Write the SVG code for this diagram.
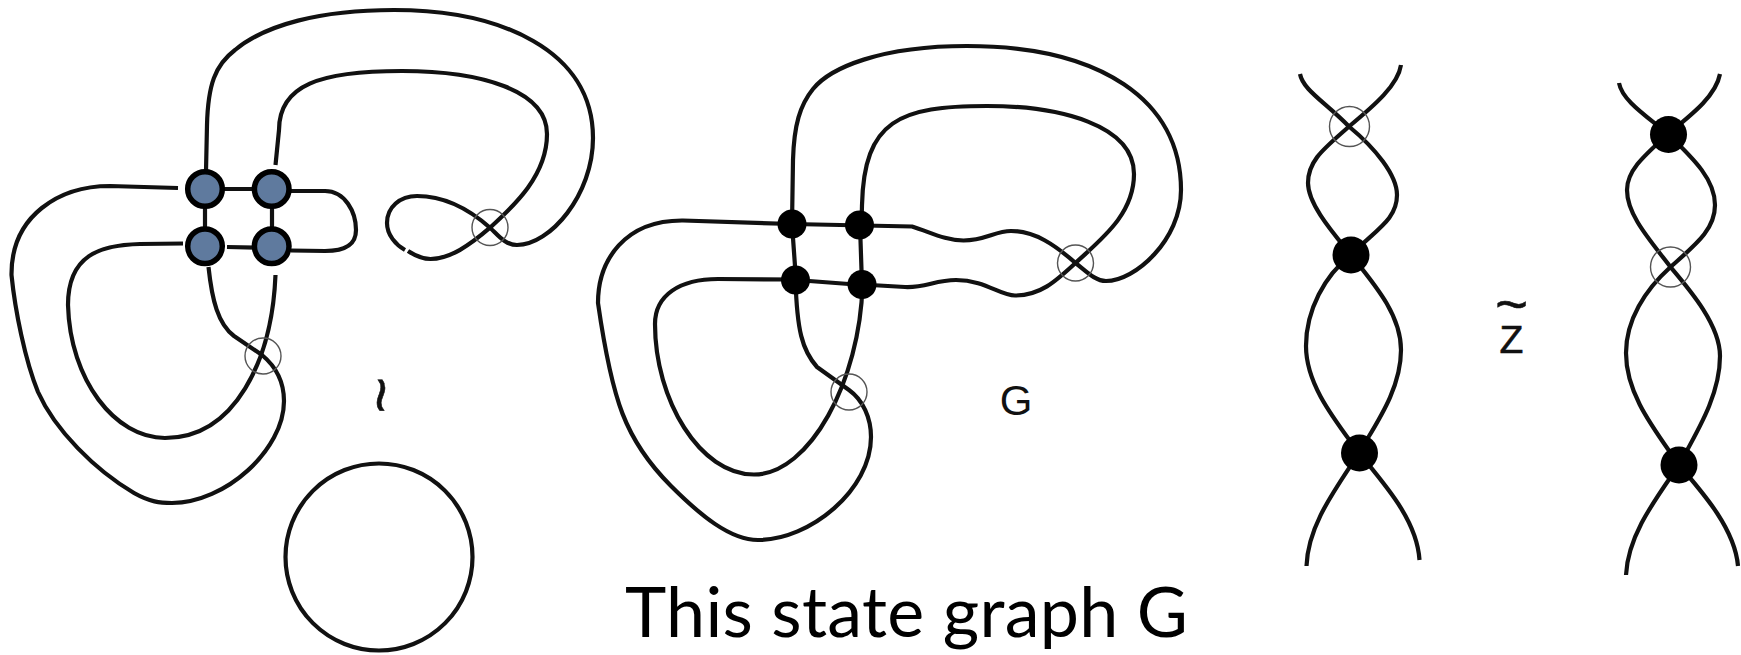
<svg xmlns="http://www.w3.org/2000/svg" width="1741" height="655" viewBox="0 0 1741 655">
<style>
.s{fill:none;stroke:#111;stroke-width:4.2;stroke-linecap:butt;stroke-linejoin:round}
.v{fill:#5f7a9e;stroke:#000;stroke-width:5.5}
.b{fill:#000}
.x{fill:none;stroke:#555;stroke-width:1.4}
.l{font-family:"Liberation Sans",Arial,sans-serif;fill:#111}
.h{stroke:#111;stroke-width:.6}
</style>
<rect width="1741" height="655" fill="#fff"/>
<g id="connectors">
<!-- left figure -->
<path class="s" d="M206,171 L207,125 C208,85 215,65 235,50 C265,25 320,10 394,10 C500,10 593,50 593,138 C593,195 550,245 517,245 C505,245 498,235 490,227.7 C470,210 445,196 417,196 C400,196 387,207 387,223 C387,235 396,245 405,250"/>
<path class="s" d="M408,251 C414,255 422,259 430.5,259 C450,259 470,245 490,227.7 C515,205 547,175 547,134 C547,90 480,71 402,71 C320,71 279,85 279,130 L275.5,165"/>
<path class="s" d="M205,189 V246 M205,189 H272 M227,247 L272,248 M272,189 V246"/>
<path class="s" d="M291,191 H325 C345,191 356,212 356,230 C356,245 345,251 325,251 L291,250.5"/>
<path class="s" d="M178,188 L110,186 C60,186 11,215 11.5,275 C15,310 25,360 38,392 C55,430 95,470 134,493 C150,502 160,503 172,503 C225,503 284,450 284,401 C284,380 274,365 262,355 L234,336 C218,324 212,300 208.5,267"/>
<path class="s" d="M183,243.5 L140,244 C100,245 68,255 68,305 C70,380 115,438 165,438 C235,438 272,360 275.5,275"/>
<circle class="s" cx="379" cy="557" r="93.5"/>
<!-- middle figure -->
<path class="s" d="M792,224 L793,160 C794,125 800,105 813,89 C830,68 880,46 967,46 C1100,46 1181,100 1181,190 C1181,240 1135,281 1106,281 C1095,281 1086,271 1075.5,263 C1055,245 1035,231 1011,231 C995,231 985,240.5 963.5,240.5 C945,240.5 930,232 912,226.5 L792,224"/>
<path class="s" d="M862,284.5 L905,287 C925,288 935,280 956,280 C985,280 1000,295.5 1015,295.5 C1040,295.5 1055,282 1075.5,263 C1100,240 1134,215 1134,174 C1134,125 1060,106 987,106 C900,106 864,120 862,205 L861.5,225"/>
<path class="s" d="M792,224 L796,280 M860,225 L862,285 M796,280 L862,285"/>
<path class="s" d="M795.5,280 C797,330 802,350 817,367 L849,390 C863,400 871,418 871,437 C871,490 810,540 758,540 C730,540 700,515 671,486 C625,440 612,400 598,303 C598,260 625,220 683,220.5 L792,224"/>
<path class="s" d="M796,279.5 L718,279 C680,279 655,295 655,324 C655,400 700,474.5 754,474.5 C810,474.5 860,380 862.5,285"/>
<!-- right pair, left -->
<path class="s" d="M1300,74 C1303,90 1325,102 1349,126.5 C1375,148 1397,175 1397,195 C1397,220 1375,230 1351,255"/>
<path class="s" d="M1401,65 C1398,85 1375,105 1349,126.5 C1325,148 1308,160 1308,183 C1308,205 1335,235 1351,255"/>
<path class="s" d="M1351,255 C1325,275 1306,310 1306,346 C1306,385 1335,420 1359,453"/>
<path class="s" d="M1351,255 C1375,285 1401,315 1401,350 C1401,390 1375,425 1359,453"/>
<path class="s" d="M1359,453 C1335,490 1308,525 1306.5,566"/>
<path class="s" d="M1359,453 C1385,485 1417,520 1419.5,560"/>
<!-- right pair, right -->
<path class="s" d="M1619,83 C1622,100 1645,115 1668,134"/>
<path class="s" d="M1720,74 C1716,95 1695,112 1668,134"/>
<path class="s" d="M1668,134 C1695,160 1715,180 1715,205 C1715,230 1695,245 1670.5,267 C1645,290 1626,320 1626,353 C1626,395 1655,430 1679,465"/>
<path class="s" d="M1668,134 C1645,155 1627,170 1627,190 C1627,215 1650,240 1670.5,267 C1690,290 1720,325 1720,356 C1720,395 1698,430 1679,465"/>
<path class="s" d="M1679,465 C1655,500 1628,535 1626,575"/>
<path class="s" d="M1679,465 C1705,495 1735,530 1738,566"/>
</g>
<g id="left-vertices">
<g id="v1"><circle class="v" cx="205" cy="189" r="17.3"/></g>
<g id="v2"><circle class="v" cx="271.7" cy="189" r="17.3"/></g>
<g id="v3"><circle class="v" cx="205" cy="246.3" r="17.3"/></g>
<g id="v4"><circle class="v" cx="271.7" cy="246.3" r="17.3"/></g>
<g id="x1"><circle class="x" cx="490" cy="227.5" r="18"/></g>
<g id="x2"><circle class="x" cx="263" cy="356" r="18"/></g>
</g>
<g id="middle-vertices">
<g id="m1"><circle class="b" cx="792" cy="224" r="14.5"/></g>
<g id="m2"><circle class="b" cx="859.5" cy="225" r="14.5"/></g>
<g id="m3"><circle class="b" cx="795.5" cy="280" r="14.5"/></g>
<g id="m4"><circle class="b" cx="862" cy="284.5" r="14.5"/></g>
<g id="x3"><circle class="x" cx="1075.5" cy="263" r="18"/></g>
<g id="x4"><circle class="x" cx="849" cy="392" r="18"/></g>
</g>
<g id="right-vertices">
<g id="x5"><circle class="x" cx="1349.5" cy="126.5" r="20"/></g>
<g id="r1"><circle class="b" cx="1351" cy="255" r="18.5"/></g>
<g id="r2"><circle class="b" cx="1359.5" cy="453" r="18.5"/></g>
<g id="r3"><circle class="b" cx="1668.5" cy="134.5" r="18.5"/></g>
<g id="x6"><circle class="x" cx="1670.5" cy="267" r="20"/></g>
<g id="r4"><circle class="b" cx="1679" cy="465" r="18.5"/></g>
</g>
<g id="labels">
<text class="l h" x="381" y="416" font-size="62" text-anchor="middle" transform="rotate(90 381 395)">~</text>
<text class="l" x="1016" y="415" font-size="42" text-anchor="middle">G</text>
<text class="l h" text-anchor="middle"><tspan x="1511.5" y="323" font-size="56">~</tspan><tspan x="1511.5" y="353" font-size="39">Z</tspan></text>
<text x="625" y="637" font-family="Lato,&quot;Open Sans&quot;,sans-serif" font-size="70" fill="#000" textLength="563">This state graph G</text>
</g>
</svg>
